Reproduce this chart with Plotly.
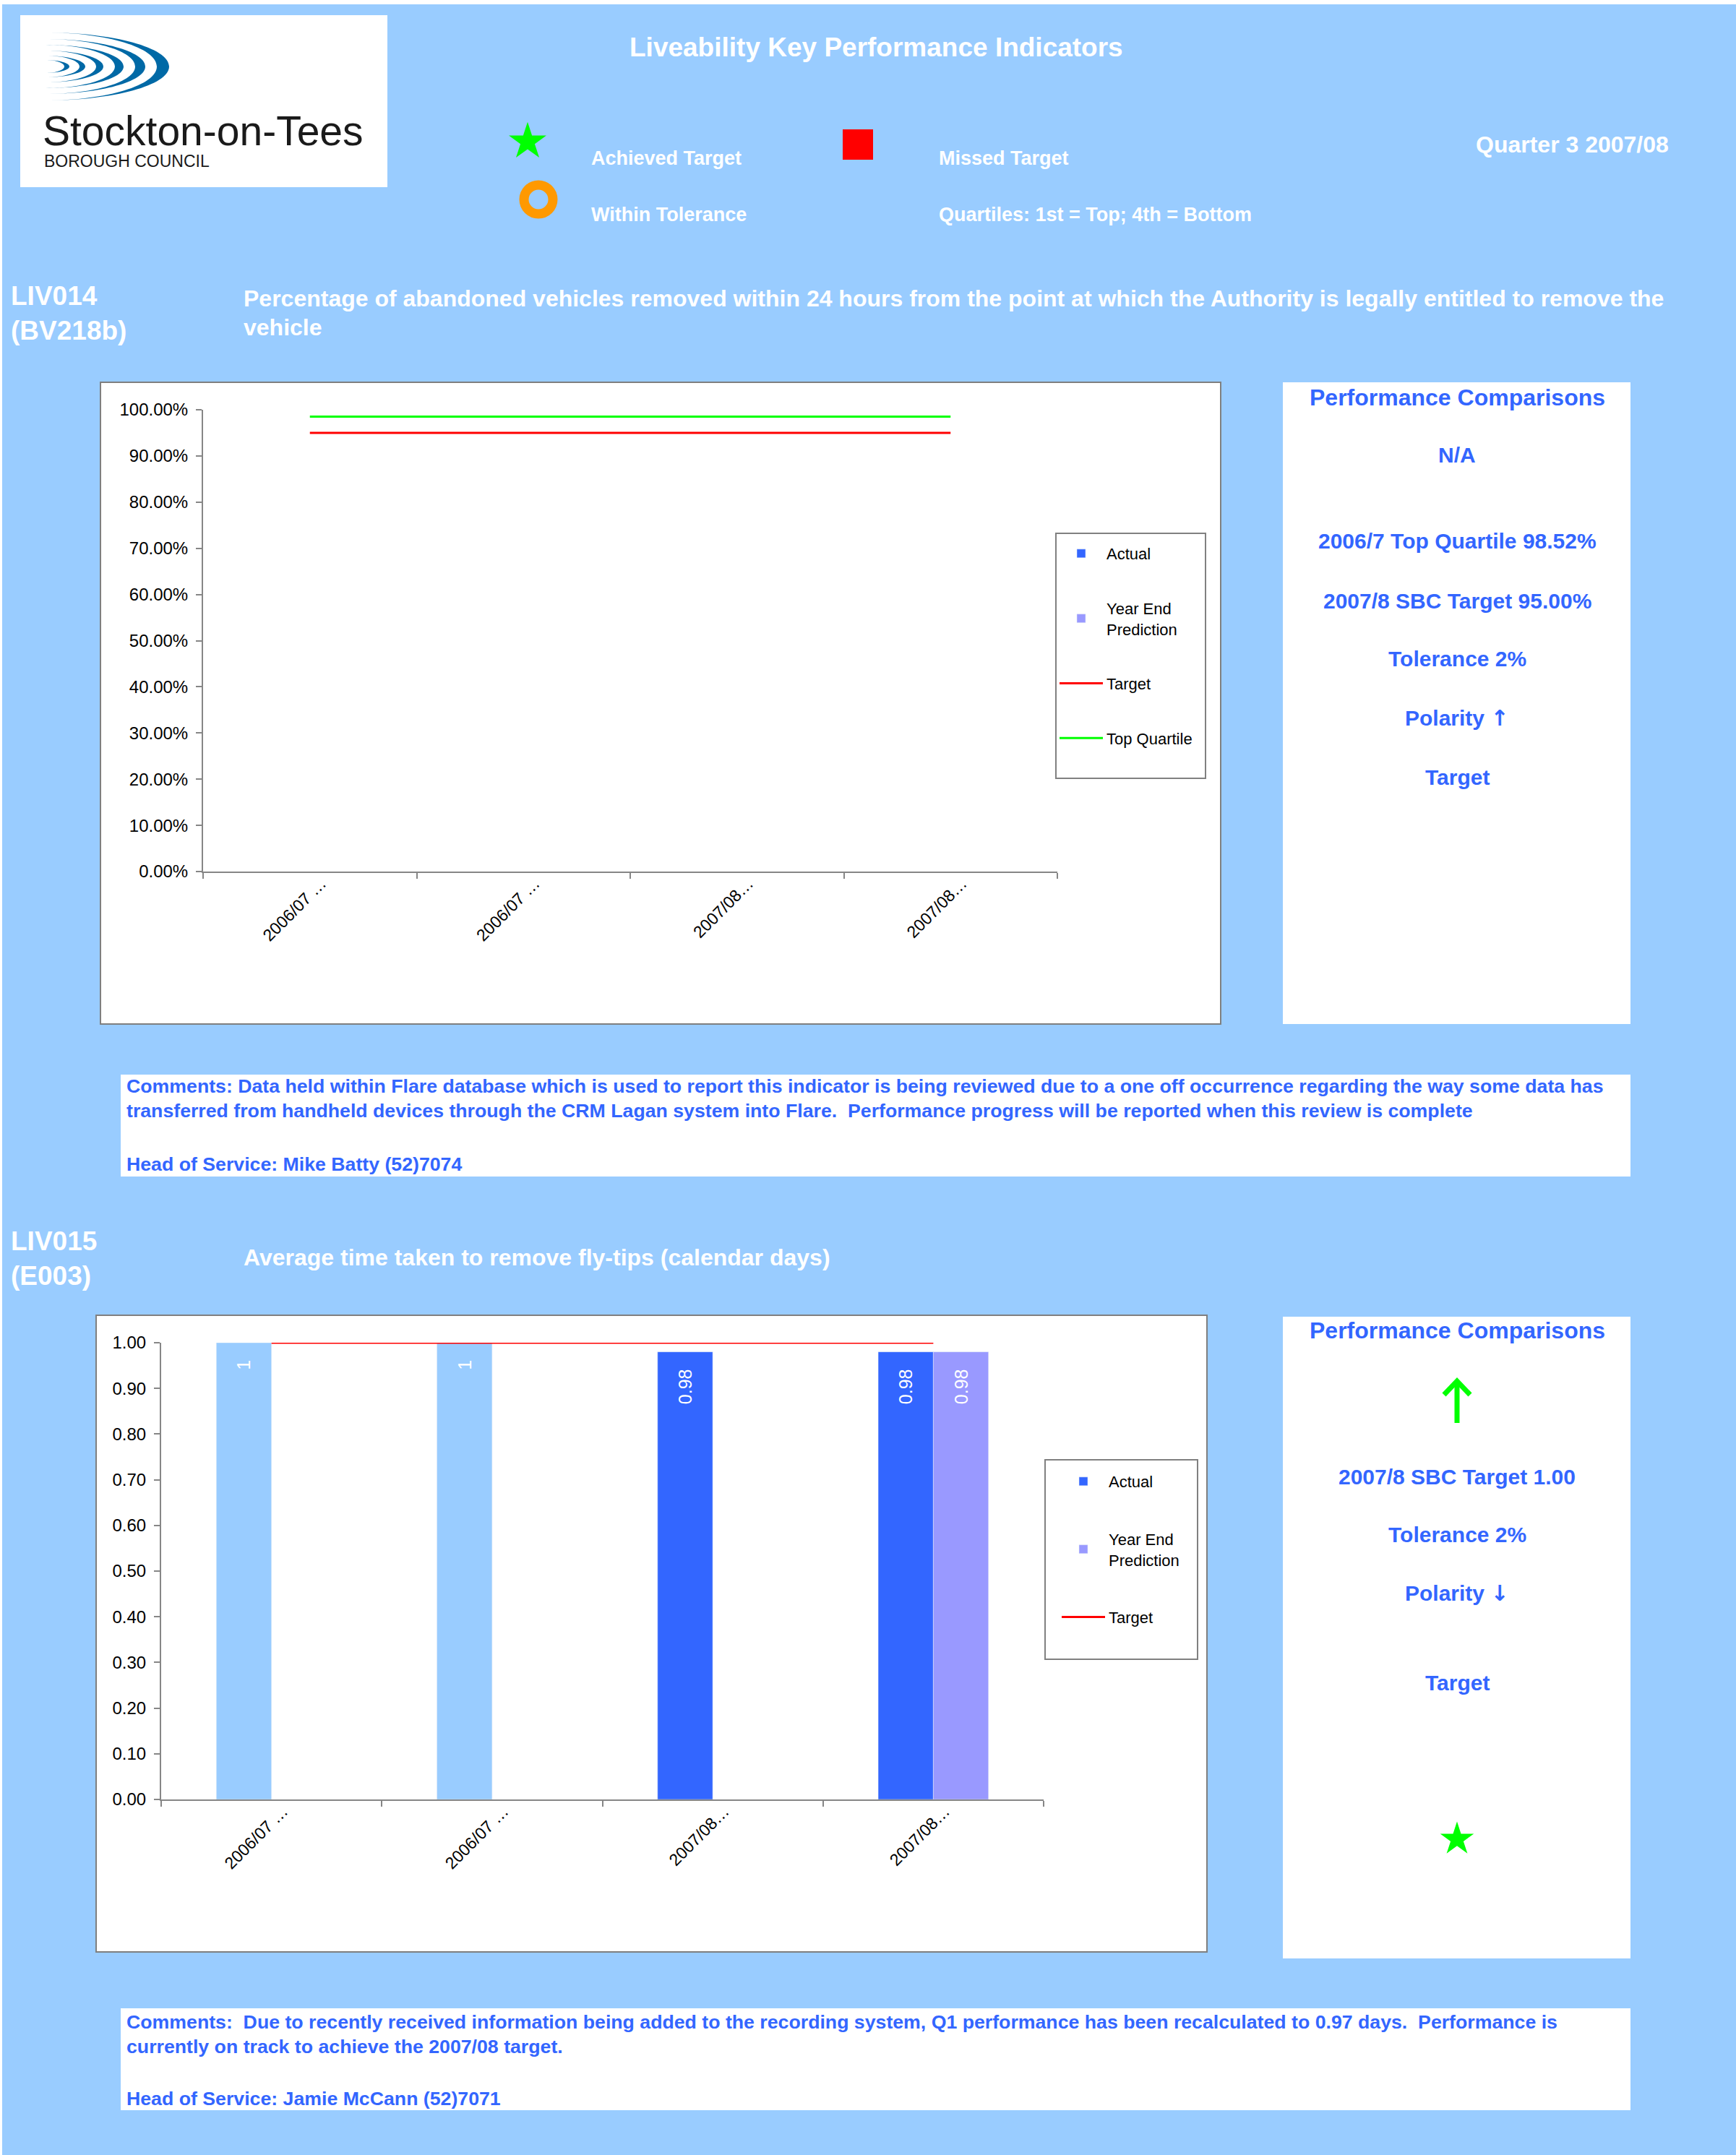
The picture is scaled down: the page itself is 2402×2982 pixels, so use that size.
import plotly.graph_objects as go

W, H = 2402, 2982
BG = "#99CCFF"
TXT_BLUE = "#3366FF"
FONT = "Liberation Sans, Arial, sans-serif"

# ---------------- data ----------------
categories = ["2006/07 Q3", "2006/07 Outturn", "2007/08 Q2", "2007/08 Q3"]
tick_labels = ["2006/07 …", "2006/07 …", "2007/08…", "2007/08…"]

liv014_actual = [None, None, None, None]
liv014_prediction = [None, None, None, None]
liv014_target = [0.95, 0.95, 0.95, 0.95]
liv014_top_quartile = [0.9852, 0.9852, 0.9852, 0.9852]

liv015_previous = [1, 1, None, None]
liv015_actual = [None, None, 0.98, 0.98]
liv015_prediction = [None, None, None, 0.98]
liv015_target = [1.00, 1.00, 1.00, 1.00]

y_ticks = [0, 0.1, 0.2, 0.3, 0.4, 0.5, 0.6, 0.7, 0.8, 0.9, 1.0]


def fx(x):
    return x / W


def fy(y):
    return 1 - y / H


fig = go.Figure()

# ---------------- chart 1 (LIV014) ----------------
fig.add_trace(go.Bar(x=categories, y=liv014_actual, name="Actual", marker_color="#3366FF",
                     offsetgroup="a", legendgroup="a1", legend="legend", xaxis="x", yaxis="y"))
fig.add_trace(go.Bar(x=categories, y=liv014_prediction, name="Year End<br>Prediction", marker_color="#9999FF",
                     offsetgroup="b", legendgroup="b1", legend="legend", xaxis="x", yaxis="y"))
fig.add_trace(go.Scatter(x=categories, y=liv014_target, name="Target", mode="lines",
                         line=dict(color="#FF0000", width=3), cliponaxis=False,
                         legendgroup="c1", legend="legend", xaxis="x", yaxis="y"))
fig.add_trace(go.Scatter(x=categories, y=liv014_top_quartile, name="Top Quartile", mode="lines",
                         line=dict(color="#00FF00", width=3), cliponaxis=False,
                         legendgroup="d1", legend="legend", xaxis="x", yaxis="y"))

# ---------------- chart 2 (LIV015) ----------------
bar_text = dict(texttemplate="%{y:~g}\u00a0\u00a0\u00a0", textposition="inside", insidetextanchor="end",
                textangle=-90, textfont=dict(color="white", size=25, family=FONT))
fig.add_trace(go.Bar(x=categories, y=liv015_previous, name="Previous", marker_color="#99CCFF",
                     offsetgroup="a", showlegend=False, xaxis="x2", yaxis="y2", **bar_text))
fig.add_trace(go.Bar(x=categories, y=liv015_actual, name="Actual", marker_color="#3366FF",
                     offsetgroup="a", legendgroup="a2", legend="legend2", xaxis="x2", yaxis="y2", **bar_text))
fig.add_trace(go.Bar(x=categories, y=liv015_prediction, name="Year End<br>Prediction", marker_color="#9999FF",
                     offsetgroup="b", legendgroup="b2", legend="legend2", xaxis="x2", yaxis="y2", **bar_text))
fig.add_trace(go.Scatter(x=categories, y=liv015_target, name="Target", mode="lines",
                         line=dict(color="#FF0000", width=3), cliponaxis=False,
                         legendgroup="c2", legend="legend2", xaxis="x2", yaxis="y2"))


# ---------------- icons (overlay axis in page pixels) ----------------
def icon(x, y, symbol, size, color, lw=0):
    fig.add_trace(go.Scatter(x=[x], y=[y], mode="markers", showlegend=False, hoverinfo="skip",
                             marker=dict(symbol=symbol, size=size, color=color,
                                         line=dict(width=lw, color=color)),
                             xaxis="x3", yaxis="y3"))


icon(730, 196, "star", 39, "#00FF00")
icon(1187, 200, "square", 42, "#FF0000")
icon(745, 276, "circle-open", 40, "#FF9900", lw=13)
icon(2016, 2545, "star", 35, "#00FF00")

# ---------------- axes ----------------
axis_common = dict(showline=True, linecolor="#868686", linewidth=2, ticks="outside", ticklen=8,
                   tickwidth=2, tickcolor="#868686", showgrid=False, zeroline=False, automargin=False)
xcat = dict(type="category", categoryorder="array", categoryarray=categories, tickmode="array",
            tickvals=categories, ticktext=tick_labels, tickangle=-45, tickson="boundaries",
            range=[-0.5, 3.5], ticklabelshift=16, ticklabelstandoff=-8,
            tickfont=dict(family=FONT, size=23, color="black"))
ynum = dict(range=[0, 1], tickmode="array", tickvals=y_ticks, ticklabelstandoff=6,
            tickfont=dict(family=FONT, size=24, color="black"))

fig.update_layout(
    xaxis=dict(domain=[fx(281), fx(1463)], anchor="y", **xcat, **axis_common),
    yaxis=dict(domain=[fy(1206), fy(567)], anchor="x", tickformat=".2%", **ynum, **axis_common),
    xaxis2=dict(domain=[fx(223), fx(1444)], anchor="y2", **xcat, **axis_common),
    yaxis2=dict(domain=[fy(2490), fy(1858)], anchor="x2", tickformat=".2f", **ynum, **axis_common),
    xaxis3=dict(domain=[0, 1], anchor="y3", range=[0, W], visible=False, fixedrange=True, automargin=False),
    yaxis3=dict(domain=[0, 1], anchor="x3", range=[H, 0], visible=False, fixedrange=True, automargin=False),
)

# ---------------- shapes ----------------
shapes = []


def rect(x0, y0, x1, y1, fill="white", line=None, lw=0):
    shapes.append(dict(type="rect", xref="paper", yref="paper", x0=fx(x0), x1=fx(x1), y0=fy(y1), y1=fy(y0),
                       fillcolor=fill, line=dict(width=lw, color=line or fill), layer="below"))


rect(0, 0, W, 6)
rect(0, 0, 3, H)
rect(28, 21, 536, 259)                      # logo box
rect(139, 529, 1689, 1417, line="#7F7F7F", lw=2)   # chart 1 frame
rect(1461, 738, 1668, 1077, line="#808080", lw=2)  # legend 1 frame
rect(1775, 529, 2256, 1417)                 # panel 1
rect(167, 1487, 2256, 1628)                 # comments 1
rect(133, 1820, 1670, 2701, line="#7F7F7F", lw=2)  # chart 2 frame
rect(1446, 2020, 1657, 2296, line="#808080", lw=2)  # legend 2 frame
rect(1775, 1822, 2256, 2710)                # panel 2
rect(167, 2779, 2256, 2920)                 # comments 2

# logo arcs
K = 0.5523


def P(x, y):
    return f"{fx(x):.6f},{fy(y):.6f}"


def crescent(cx, cy, rxo, rxi, ry):
    d = (f"M{P(cx, cy - ry)} C{P(cx + K * rxo, cy - ry)} {P(cx + rxo, cy - K * ry)} {P(cx + rxo, cy)} "
         f"C{P(cx + rxo, cy + K * ry)} {P(cx + K * rxo, cy + ry)} {P(cx, cy + ry)} "
         f"C{P(cx + K * rxi, cy + ry)} {P(cx + rxi, cy + K * ry)} {P(cx + rxi, cy)} "
         f"C{P(cx + rxi, cy - K * ry)} {P(cx + K * rxi, cy - ry)} {P(cx, cy - ry)} Z")
    shapes.append(dict(type="path", xref="paper", yref="paper", path=d, fillcolor="#0069A6",
                       line=dict(width=0)))


for rx, ry, t in [(171, 47, 17), (138, 38, 14), (108, 30, 12), (80, 22, 10), (55, 15, 8), (33, 9, 7)]:
    crescent(63, 92, rx, rx - t, ry)

# green arrow in panel 2
shapes.append(dict(type="line", xref="paper", yref="paper", x0=fx(2016), x1=fx(2016), y0=fy(1969), y1=fy(1912),
                   line=dict(color="#00FF00", width=7)))
shapes.append(dict(type="path", xref="paper", yref="paper",
                   path=f"M{P(1998, 1930)} L{P(2016, 1911)} L{P(2034, 1930)}",
                   line=dict(color="#00FF00", width=7)))

# ---------------- text ----------------
ann = []


def txt(s, x, y, size, color="white", xanchor="left", bold=True):
    ann.append(dict(text=f"<b>{s}</b>" if bold else s, x=fx(x), y=fy(y), xref="paper", yref="paper",
                    xanchor=xanchor, yanchor="middle", showarrow=False,
                    font=dict(family=FONT, size=size, color=color)))


ARROW_UP = '<span style="font-family:DejaVu Sans">↑</span>'
ARROW_DN = '<span style="font-family:DejaVu Sans">↓</span>'

# logo text
txt("Stockton-on-Tees", 57, 181, 57, color="#1A1A1A", bold=False)
txt("BOROUGH COUNCIL", 59, 223, 23, color="#1A1A1A", bold=False)

# header
txt("Liveability Key Performance Indicators", 1212, 65, 37, xanchor="center")
txt("Achieved Target", 816, 219, 27)
txt("Missed Target", 1297, 219, 27)
txt("Within Tolerance", 816, 297, 27)
txt("Quartiles: 1st = Top; 4th = Bottom", 1297, 297, 27)
txt("Quarter 3 2007/08", 2311, 200, 32, xanchor="right")

# section 1
txt("LIV014", 13, 409, 37)
txt("(BV218b)", 13, 458, 37)
txt("Percentage of abandoned vehicles removed within 24 hours from the point at which the Authority is legally entitled to remove the",
    335, 413, 32)
txt("vehicle", 335, 453, 32)

txt("Performance Comparisons", 2016, 550, 32, color=TXT_BLUE, xanchor="center")
for s, y in [("N/A", 630), ("2006/7 Top Quartile 98.52%", 749),
             ("2007/8 SBC Target 95.00%", 831), ("Tolerance 2%", 911), ("Polarity " + ARROW_UP, 993),
             ("Target", 1075)]:
    txt(s, 2016, y, 30, color=TXT_BLUE, xanchor="center")

CS = 26.7
txt("Comments: Data held within Flare database which is used to report this indicator is being reviewed due to a one off occurrence regarding the way some data has",
    173, 1503, CS, color=TXT_BLUE)
txt("transferred from handheld devices through the CRM Lagan system into Flare.  Performance progress will be reported when this review is complete",
    173, 1537, CS, color=TXT_BLUE)
txt("Head of Service: Mike Batty (52)7074", 173, 1611, CS, color=TXT_BLUE)

# section 2
txt("LIV015", 13, 1717, 37)
txt("(E003)", 13, 1765, 37)
txt("Average time taken to remove fly-tips (calendar days)", 335, 1740, 32)

txt("Performance Comparisons", 2016, 1841, 32, color=TXT_BLUE, xanchor="center")
for s, y in [("2007/8 SBC Target 1.00", 2043), ("Tolerance 2%", 2123),
             ("Polarity " + ARROW_DN, 2204), ("Target", 2328)]:
    txt(s, 2016, y, 30, color=TXT_BLUE, xanchor="center")

txt("Comments:  Due to recently received information being added to the recording system, Q1 performance has been recalculated to 0.97 days.  Performance is",
    173, 2798, CS, color=TXT_BLUE)
txt("currently on track to achieve the 2007/08 target.", 173, 2832, CS, color=TXT_BLUE)
txt("Head of Service: Jamie McCann (52)7071", 173, 2904, CS, color=TXT_BLUE)

legend_common = dict(xanchor="left", yanchor="top", bgcolor="rgba(0,0,0,0)", borderwidth=0,
                     font=dict(family=FONT, size=22, color="black"), traceorder="grouped", itemwidth=60)

fig.update_layout(
    width=W, height=H, autosize=False,
    margin=dict(l=0, r=0, t=0, b=0, pad=0, autoexpand=False),
    paper_bgcolor=BG, plot_bgcolor="rgba(0,0,0,0)",
    font=dict(family=FONT),
    barmode="group", bargap=0.5, bargroupgap=0,
    shapes=shapes, annotations=ann,
    legend=dict(x=fx(1461), y=fy(745), tracegroupgap=44, **legend_common),
    legend2=dict(x=fx(1464), y=fy(2029), tracegroupgap=48, **legend_common),
    hovermode=False,
)

post = ("var gd=document.getElementById('{plot_id}');"
        "gd.style.position='fixed';gd.style.top='0px';gd.style.left='0px';"
        "document.body.style.margin='0';document.body.style.padding='0';"
        "document.documentElement.style.overflow='hidden';document.body.style.overflow='hidden';"
        "window.scrollTo(0,0);")

fig.write_html("out.html", config={"displayModeBar": False}, post_script=post)
